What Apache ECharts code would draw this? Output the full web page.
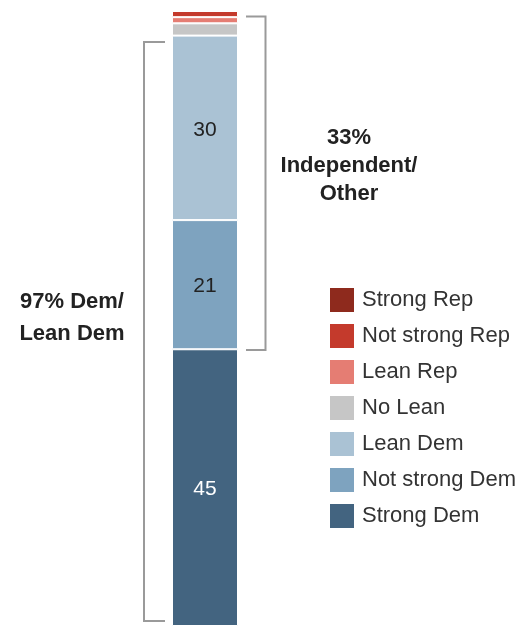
<!DOCTYPE html>
<html><head><meta charset="utf-8">
<script src="https://cdn.jsdelivr.net/npm/echarts@6/dist/echarts.min.js"></script>
<style>html,body{margin:0;padding:0;background:#fff}#c{width:524px;height:626px}</style>
</head><body><div id="c"></div>
<script>
const categories = ['Party ID'];
const seriesNames = ['Strong Dem', 'Not strong Dem', 'Lean Dem', 'No Lean', 'Lean Rep', 'Not strong Rep', 'Strong Rep'];
const strongDem = [45];
const notStrongDem = [21];
const leanDem = [30];
const noLean = [2];
const leanRep = [1];
const notStrongRep = [1];
const strongRep = [0];
const legendOrder = ['Strong Rep', 'Not strong Rep', 'Lean Rep', 'No Lean', 'Lean Dem', 'Not strong Dem', 'Strong Dem'];
const colors = {
  'Strong Dem': '#436480', 'Not strong Dem': '#7ea3bf', 'Lean Dem': '#aac2d4', 'No Lean': '#c6c6c6',
  'Lean Rep': '#e57d73', 'Not strong Rep': '#c43a2c', 'Strong Rep': '#8e2a1d'
};
const labelColors = { 'Strong Dem': '#ffffff', 'Not strong Dem': '#222', 'Lean Dem': '#222' };
const values = [strongDem, notStrongDem, leanDem, noLean, leanRep, notStrongRep, strongRep];
const FONT = 'Liberation Sans';

const chart = echarts.init(document.getElementById('c'), null, { renderer: 'canvas' });
const series = seriesNames.map((name, i) => ({
  name, type: 'bar', stack: 'all', data: values[i], barWidth: '100%',
  itemStyle: { color: colors[name], borderColor: '#fff', borderWidth: 1 },
  label: { show: !!labelColors[name], position: 'inside', color: labelColors[name], fontSize: 21, fontFamily: FONT, offset: [0, 2] },
  emphasis: { disabled: true }
}));
chart.setOption({
  animation: false,
  textStyle: { fontFamily: FONT },
  grid: { left: 172, width: 66, top: 11, height: 622 },
  xAxis: { type: 'category', data: categories, show: false },
  yAxis: { type: 'value', min: 0, max: 100, show: false },
  legend: {
    data: legendOrder, orient: 'vertical', left: 325, top: 283, itemWidth: 24, itemHeight: 24, itemGap: 12,
    icon: 'rect', itemStyle: { borderWidth: 0 }, selectedMode: false,
    textStyle: { fontSize: 22, color: '#333', fontFamily: FONT, padding: [0, 0, 0, 3] }
  },
  series,
  graphic: [
    { type: 'polyline', shape: { points: [[165, 42], [144, 42], [144, 621], [165, 621]] }, style: { stroke: '#9a9a9a', lineWidth: 2, fill: null } },
    { type: 'polyline', shape: { points: [[246, 16.5], [265.5, 16.5], [265.5, 350], [246, 350]] }, style: { stroke: '#9a9a9a', lineWidth: 2, fill: null } },
    { type: 'text', x: 349, y: 166, style: { text: '33%\nIndependent/\nOther', align: 'center', verticalAlign: 'middle', fontSize: 22, fontWeight: 'bold', fill: '#222', lineHeight: 28, fontFamily: FONT } },
    { type: 'text', x: 72, y: 318, style: { text: '97% Dem/\nLean Dem', align: 'center', verticalAlign: 'middle', fontSize: 22, fontWeight: 'bold', fill: '#222', lineHeight: 32, fontFamily: FONT } }
  ]
});
</script></body></html>
